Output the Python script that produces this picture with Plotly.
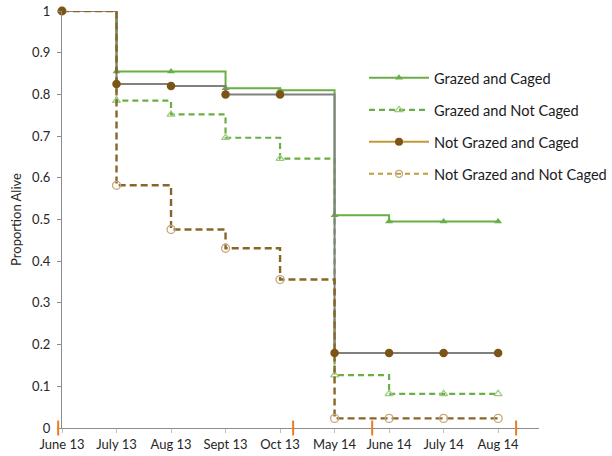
import plotly.graph_objects as go

# Survey months (category axis)
months = ["June 13", "July 13", "Aug 13", "Sept 13", "Oct 13",
          "May 14", "June 14", "July 14", "Aug 14"]

# Proportion of plants alive at each survey, per treatment
grazed_caged = [1.0, 0.855, 0.855, 0.815, 0.81, 0.51, 0.495, 0.495, 0.495]
grazed_not_caged = [1.0, 0.785, 0.752, 0.696, 0.646, 0.127, 0.082, 0.082, 0.082]
not_grazed_caged = [1.0, 0.825, 0.82, 0.80, 0.80, 0.18, 0.18, 0.18, 0.18]
not_grazed_not_caged = [1.0, 0.582, 0.476, 0.431, 0.356, 0.023, 0.023, 0.023, 0.023]

# Season boundaries marked on the time axis (in survey-index units)
season_breaks = [-0.07, 4.24, 5.69, 8.33]

y_ticks = [0, 0.1, 0.2, 0.3, 0.4, 0.5, 0.6, 0.7, 0.8, 0.9, 1]

x_idx = list(range(len(months)))
X_RANGE = [0, 8.75]

W, H = 612, 456
MARGIN = dict(l=62, r=0, t=11, b=28)
PLOT_H = H - MARGIN["t"] - MARGIN["b"]
PAPER_W = W - MARGIN["l"] - MARGIN["r"]
X_DOMAIN = [0, 477 / PAPER_W]

GREEN = "#6aaf45"
GREEN_LIGHT = "#9ccb7e"
GRAY = "#808080"
BROWN = "#7b5416"
BROWN_DASH = "#88662a"
GOLD = "#c39a3a"
TAN = "#c4a77a"
ORANGE = "#f07a20"
FONT = "Lato"

fig = go.Figure()

# Grazed and Caged
fig.add_trace(go.Scatter(
    x=x_idx, y=grazed_caged, mode="lines+markers", line_shape="hv",
    name="Grazed and Caged", legendgroup="g1",
    line=dict(color=GREEN, width=2),
    marker=dict(symbol="triangle-up", size=7, color=GREEN),
    cliponaxis=False,
))

# Grazed and Not Caged
fig.add_trace(go.Scatter(
    x=x_idx, y=grazed_not_caged, mode="lines+markers", line_shape="hv",
    name="Grazed and Not Caged", legendgroup="g2",
    line=dict(color=GREEN, width=2.2, dash="6px,4px"),
    marker=dict(symbol="triangle-up-open", size=7, color=GREEN_LIGHT,
                line=dict(width=1.2)),
    cliponaxis=False,
))

# Not Grazed and Caged: grey step line
fig.add_trace(go.Scatter(
    x=x_idx, y=not_grazed_caged, mode="lines", line_shape="hv",
    name="Not Grazed and Caged", legendgroup="g3", showlegend=False,
    line=dict(color=GRAY, width=2),
    cliponaxis=False,
))

# Not Grazed and Not Caged
fig.add_trace(go.Scatter(
    x=x_idx, y=not_grazed_not_caged, mode="lines+markers", line_shape="hv",
    name="Not Grazed and Not Caged", legendgroup="g4", showlegend=False,
    line=dict(color=BROWN_DASH, width=2.4, dash="7px,4px"),
    marker=dict(symbol="circle-open", size=8, color=TAN, line=dict(width=1.3)),
    cliponaxis=False,
))

# Not Grazed and Caged: survey points on top
fig.add_trace(go.Scatter(
    x=x_idx, y=not_grazed_caged, mode="markers",
    name="Not Grazed and Caged", legendgroup="g3", showlegend=False,
    marker=dict(symbol="circle", size=8.5, color=BROWN),
    cliponaxis=False,
))

# Legend keys for the "Not Grazed" treatments (gold key lines)
fig.add_trace(go.Scatter(
    x=[None], y=[None], mode="lines+markers",
    name="Not Grazed and Caged", legendgroup="g3",
    line=dict(color=GOLD, width=2),
    marker=dict(symbol="circle", size=8, color=BROWN),
))
fig.add_trace(go.Scatter(
    x=[None], y=[None], mode="lines+markers",
    name="Not Grazed and Not Caged", legendgroup="g4",
    line=dict(color=GOLD, width=2, dash="5px,4px"),
    marker=dict(symbol="circle-open", size=7, color=TAN, line=dict(width=1.3)),
))

# Orange season-boundary ticks crossing the time axis
half = 7.5 / PLOT_H
for b in season_breaks:
    frac = (b - X_RANGE[0]) / (X_RANGE[1] - X_RANGE[0])
    px = X_DOMAIN[0] + frac * (X_DOMAIN[1] - X_DOMAIN[0])
    fig.add_shape(type="line", xref="paper", yref="paper",
                  x0=px, x1=px, y0=-half, y1=half,
                  line=dict(color=ORANGE, width=2), layer="above")

fig.update_layout(
    width=W, height=H,
    margin=MARGIN,
    paper_bgcolor="white", plot_bgcolor="white",
    font=dict(family=FONT, size=13, color="#262626"),
    showlegend=True,
    legend=dict(
        x=1.0, y=0.878, xanchor="right", yanchor="top",
        font=dict(family=FONT, size=14.6, color="#1a1a1a"),
        bgcolor="rgba(0,0,0,0)", tracegroupgap=10, itemwidth=60,
    ),
    xaxis=dict(
        domain=X_DOMAIN,
        range=X_RANGE, tickmode="array", tickvals=x_idx, ticktext=months,
        showline=True, linecolor="#8c8c8c", linewidth=1.3,
        ticks="outside", ticklen=4, tickcolor="#bfbfbf",
        showgrid=False, zeroline=False, automargin=False,
        tickfont=dict(family=FONT, size=13, color="#262626"),
    ),
    yaxis=dict(
        range=[0, 1], tickmode="array", tickvals=y_ticks,
        showline=True, linecolor="#8c8c8c", linewidth=1.3,
        ticks="outside", ticklen=4, tickcolor="#8c8c8c",
        showgrid=False, zeroline=False, automargin=False,
        ticklabelstandoff=4,
        title=dict(text="Proportion Alive", standoff=7,
                   font=dict(family=FONT, size=13, color="#262626")),
        tickfont=dict(family=FONT, size=13, color="#262626"),
    ),
)

fig.write_html("out.html")
